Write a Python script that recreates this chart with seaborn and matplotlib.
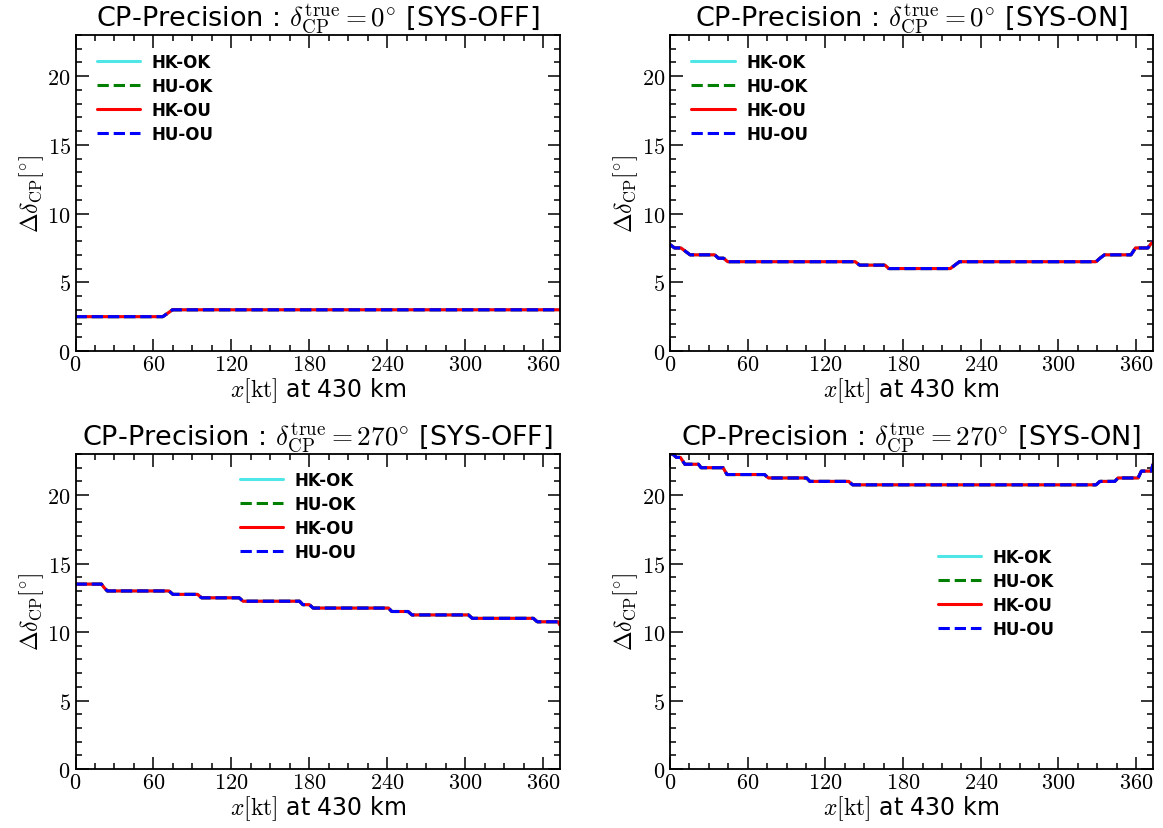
import numpy as np
import pandas as pd
import seaborn as sns
import matplotlib
matplotlib.use("Agg")
import matplotlib.pyplot as plt
from matplotlib.ticker import MultipleLocator, FuncFormatter

# ---------------- data (knots of the step curves) ----------------
series_names = ["HK-OK", "HU-OK", "HK-OU", "HU-OU"]

# delta_CP = 0 deg, SYS-OFF
x_d0_off = [0, 67.2, 71.0, 74.7, 373]
y_d0_off = [2.5, 2.5, 2.75, 3.0, 3.0]

# delta_CP = 0 deg, SYS-ON
x_d0_on = [0, 3.5, 8.5, 12, 15.5, 34.5, 37.5, 41.5, 44.5, 143, 146.5, 166, 169,
           216.5, 220, 223.5, 329, 332, 335.5, 356, 359.5, 369, 373]
y_d0_on = [7.75, 7.5, 7.5, 7.25, 7.0, 7.0, 6.75, 6.75, 6.5, 6.5, 6.25, 6.25, 6.0,
           6.0, 6.25, 6.5, 6.5, 6.75, 7.0, 7.0, 7.5, 7.5, 8.0]

# delta_CP = 270 deg, SYS-OFF
x_d270_off = [0, 20, 22, 24.5, 72, 75, 94, 97, 126, 129, 172.5, 175, 180, 183,
              241, 243.5, 256, 259, 302.5, 305.5, 352.5, 355.5, 371.5, 373]
y_d270_off = [13.5, 13.5, 13.25, 13.0, 13.0, 12.75, 12.75, 12.5, 12.5, 12.25, 12.25, 12.0, 12.0, 11.75,
              11.75, 11.5, 11.5, 11.25, 11.25, 11.0, 11.0, 10.75, 10.75, 10.5]

# delta_CP = 270 deg, SYS-ON
x_d270_on = [0, 2, 5, 8, 11.5, 22, 24, 41, 44, 73, 76, 105.5, 108, 138, 141,
             329, 332, 343.5, 346, 361.5, 364, 371.5, 373]
y_d270_on = [23.0, 23.0, 22.75, 22.75, 22.25, 22.25, 22.0, 22.0, 21.5, 21.5, 21.25, 21.25, 21.0, 21.0, 20.75,
             20.75, 21.0, 21.0, 21.25, 21.25, 21.75, 21.75, 22.25]

panel_titles = [
    r"CP-Precision : $\delta_{\rm CP}^{\rm true} = 0^{\circ}$ [SYS-OFF]",
    r"CP-Precision : $\delta_{\rm CP}^{\rm true} = 0^{\circ}$ [SYS-ON]",
    r"CP-Precision : $\delta_{\rm CP}^{\rm true} = 270^{\circ}$ [SYS-OFF]",
    r"CP-Precision : $\delta_{\rm CP}^{\rm true} = 270^{\circ}$ [SYS-ON]",
]
x_ticks = [0, 60, 120, 180, 240, 300, 360]
y_ticks = [0, 5, 10, 15, 20]

# ---------------- style ----------------
sns.set_style("ticks")
plt.rcParams["font.family"] = ["DejaVu Sans"]
plt.rcParams["mathtext.fontset"] = "cm"
plt.rcParams["axes.linewidth"] = 1.3
for k in ["text.color", "axes.labelcolor", "xtick.color", "ytick.color", "axes.edgecolor"]:
    plt.rcParams[k] = "black"

colors = ["#4ee6e6", "green", "red", "blue"]
styles = ["-", "--", "-", "--"]

fig = plt.figure(figsize=(11.63, 8.29), dpi=100)
W, H = 1163, 829
boxes = [
    (75.5, 36, 560, 352),
    (670, 36, 1153, 352),
    (75.5, 455, 560, 770),
    (670, 455, 1153, 770),
]
data = [(x_d0_off, y_d0_off), (x_d0_on, y_d0_on), (x_d270_off, y_d270_off), (x_d270_on, y_d270_on)]
legend_locs = [
    dict(loc="upper left", bbox_to_anchor=(0.013, 0.99)),
    dict(loc="upper left", bbox_to_anchor=(0.013, 0.99)),
    dict(loc="upper center", bbox_to_anchor=(0.46, 0.995)),
    dict(loc="center", bbox_to_anchor=(0.675, 0.56)),
]

fmt = FuncFormatter(lambda v, p: r"$%d$" % int(round(v)))

for i, ((l, t, r, b), (xs, ys)) in enumerate(zip(boxes, data)):
    ax = fig.add_axes([l / W, 1 - b / H, (r - l) / W, (b - t) / H])
    df = pd.DataFrame({"x": xs, "y": ys})
    for name, c, ls in zip(series_names, colors, styles):
        sns.lineplot(data=df, x="x", y="y", ax=ax, color=c, linestyle=ls, lw=2.2,
                     estimator=None, sort=False, label=name)
    ax.set_xlim(0, 373)
    ax.set_ylim(0, 23)
    ax.set_xticks(x_ticks)
    ax.set_yticks(y_ticks)
    ax.xaxis.set_minor_locator(MultipleLocator(15))
    ax.yaxis.set_minor_locator(MultipleLocator(1))
    ax.xaxis.set_major_formatter(fmt)
    ax.yaxis.set_major_formatter(fmt)
    ax.tick_params(which="both", direction="in", top=True, right=True, labelsize=16, width=1.1)
    ax.tick_params(which="major", length=9)
    ax.tick_params(which="minor", length=4.5)
    ax.tick_params(axis="x", pad=2)
    ax.set_title(panel_titles[i], fontsize=19.5, pad=5)
    ax.set_xlabel(r"$x[\rm kt]$ at 430 km", fontsize=17, labelpad=1)
    ax.set_ylabel(r"$\Delta\delta_{\rm CP}[^{\circ}]$", fontsize=17, labelpad=1)
    leg = ax.legend(frameon=False, prop={"weight": "bold", "size": 12},
                    handlelength=2.6, handletextpad=0.7, labelspacing=0.36,
                    **legend_locs[i])

fig.savefig("out.png", dpi=100)
